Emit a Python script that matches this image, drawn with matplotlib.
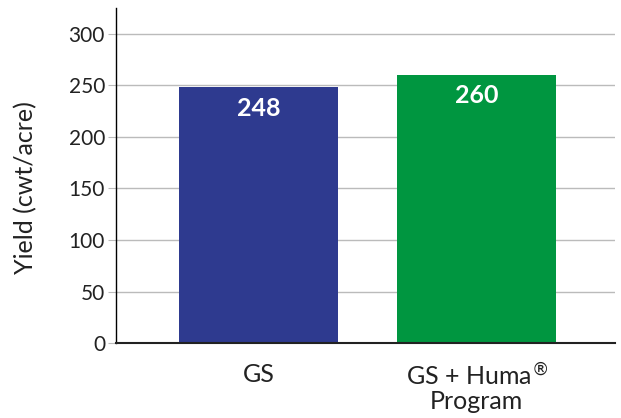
import matplotlib.pyplot as plt

categories = ["GS", "GS + Huma$^{®}$\nProgram"]
yields = [248, 260]
bar_colors = ["#2E3A8F", "#009640"]
y_ticks = [0, 50, 100, 150, 200, 250, 300]

plt.rcParams['font.family'] = ['Lato', 'DejaVu Sans']

fig = plt.figure(figsize=(6.21, 4.18), dpi=100)
ax = fig.add_axes([0.187, 0.179, 0.803, 0.802])

x = list(range(len(categories)))
ax.bar(x, yields, width=0.73, color=bar_colors, zorder=2)

for xi, v in zip(x, yields):
    ax.text(xi, v - 9, str(v), ha="center", va="top", color="white",
            fontsize=18, fontweight="bold", zorder=3)

ax.set_xlim(-0.652, 1.632)
ax.set_ylim(0, 325)
ax.set_yticks(y_ticks)
ax.tick_params(axis="y", length=6, color="#bbbbbb", labelsize=15, pad=2,
               labelcolor="#222222")
ax.tick_params(axis="x", length=0, labelsize=18, pad=14, labelcolor="#222222")
ax.set_xticks(x)
ax.set_xticklabels(categories, linespacing=1.0)

ax.grid(axis="y", color="#bbbbbb", linewidth=1, zorder=0)
ax.set_axisbelow(True)
for s in ["top", "right"]:
    ax.spines[s].set_visible(False)
ax.spines["left"].set_linewidth(1)
ax.spines["bottom"].set_linewidth(1.5)
ax.spines["bottom"].set_color("#222222")

ax.set_ylabel("Yield (cwt/acre)", fontsize=18, color="#222222")
ax.yaxis.set_label_coords(-0.158, 0.463)

plt.savefig("out.png", dpi=100)
